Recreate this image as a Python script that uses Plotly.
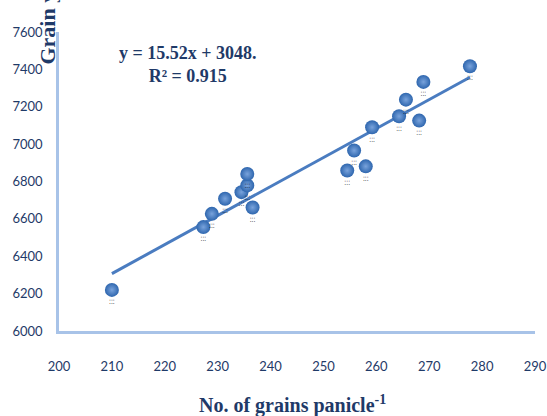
import plotly.graph_objects as go

# Number of grains per panicle vs. grain yield
grains = [210.0, 227.3, 228.9, 231.4, 234.5, 235.6, 235.6, 236.6,
          254.5, 255.8, 258.0, 259.2, 264.3, 265.6, 268.1, 268.9, 277.7]
yield_kg = [6220, 6556, 6627, 6708, 6743, 6779, 6840, 6661,
            6859, 6966, 6881, 7090, 7149, 7238, 7126, 7333, 7417]

# Linear trend: y = 15.52x + 3048
slope = 15.52
intercept = 3048
r2 = 0.915

x_ticks = list(range(200, 291, 10))
y_ticks = list(range(6000, 7601, 200))

navy = "#1F3A68"
axis_blue = "#A8C3E8"

trend_x = [min(grains), max(grains)]
trend_y = [slope * v + intercept for v in trend_x]

fig = go.Figure()

fig.add_trace(go.Scatter(
    x=trend_x, y=trend_y, mode="lines",
    line=dict(color="#4A7CC0", width=3),
    hoverinfo="skip", showlegend=False,
))

fig.add_trace(go.Scatter(
    x=grains, y=yield_kg, mode="markers+text",
    text=["⁚⁚⁚"] * len(grains),
    textposition="bottom center",
    textfont=dict(size=6, color="#000000", family="DejaVu Sans"),
    marker=dict(
        symbol="circle", size=14, color="#2E66AE",
        gradient=dict(type="radial", color="#79A3DC"),
        line=dict(width=0),
    ),
    showlegend=False,
))

fig.add_annotation(
    xref="paper", yref="paper", x=0.272, y=0.89,
    xanchor="center", yanchor="middle",
    text=f"<b>y = {slope}x + {intercept}.<br>R² = {r2}</b>",
    showarrow=False, align="center",
    font=dict(family="Liberation Serif", size=18, color=navy),
)

# Rotated y-axis title running off the top edge
fig.add_annotation(
    xref="paper", yref="paper", x=-0.027, y=0.885,
    xanchor="center", yanchor="bottom",
    text="<b>Grain yield (kg ha<sup>-1</sup>)</b>",
    textangle=-90, showarrow=False,
    font=dict(family="Liberation Serif", size=22, color=navy),
)

# x-axis title placed below the tick labels
fig.add_annotation(
    xref="paper", yref="paper", x=0.49, y=-0.245,
    xanchor="center", yanchor="middle",
    text="<b>No. of grains panicle<sup>-1</sup></b>",
    showarrow=False,
    font=dict(family="Liberation Serif", size=20, color=navy),
)

fig.update_layout(
    width=547, height=416,
    margin=dict(l=59, r=12, t=32, b=85),
    paper_bgcolor="white", plot_bgcolor="white",
    xaxis=dict(
        range=[200, 290], tickvals=x_ticks, showgrid=False, zeroline=False,
        showline=True, linecolor=axis_blue, linewidth=2.5,
        ticks="", ticklabelstandoff=22, automargin=False,
        tickfont=dict(family="Lato", size=13, color=navy),
    ),
    yaxis=dict(
        range=[6000, 7600], tickvals=y_ticks, showgrid=False, zeroline=False,
        showline=True, linecolor=axis_blue, linewidth=2.5,
        ticks="", ticklabelstandoff=11, automargin=False,
        tickfont=dict(family="Lato", size=13, color=navy),
    ),
)

fig.write_html("out.html")
